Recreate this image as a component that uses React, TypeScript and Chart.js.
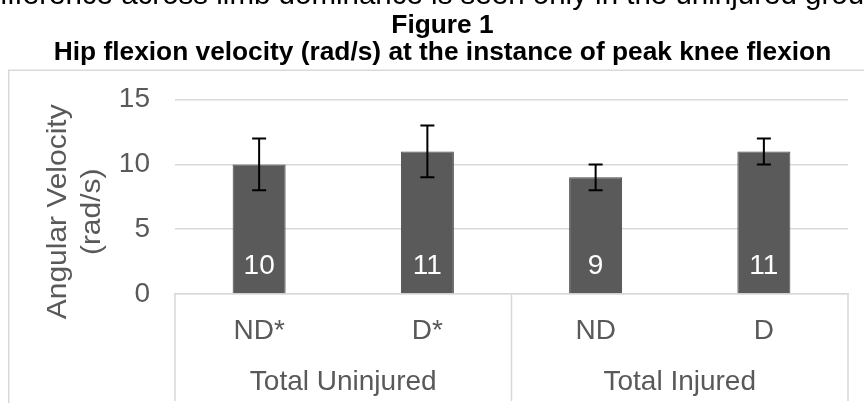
import React, { useEffect, useRef } from 'react';
import { Chart, registerables } from 'chart.js';

Chart.register(...registerables);

const categories = ['ND*', 'D*', 'ND', 'D'];
const groups = ['Total Uninjured', 'Total Injured'];
const groupMembers = [[0, 1], [2, 3]];
const values = [10, 11, 9, 11];
const errors = [2, 2, 1, 1];
const yMin = 0;
const yMax = 15;
const yStep = 5;
const topLine = 'difference across limb dominance is seen only in the uninjured group';
const titleLines = ['Figure 1', 'Hip flexion velocity (rad/s) at the instance of peak knee flexion'];
const yTitle = ['Angular Velocity', '(rad/s)'];

const FONT = '"Liberation Sans", Arial, Helvetica, sans-serif';
const GRAY = '#595959';
const LINE = '#d9d9d9';

const decorPlugin = {
  id: 'decor',
  beforeDraw(chart: any) {
    const { ctx, width, height } = chart;
    ctx.save();
    ctx.fillStyle = '#ffffff';
    ctx.fillRect(0, 0, width, height);
    ctx.font = `29.5px ${FONT}`;
    ctx.fillStyle = '#000000';
    ctx.textAlign = 'left';
    ctx.textBaseline = 'alphabetic';
    ctx.fillText(topLine, -16, 4);
    ctx.strokeStyle = LINE;
    ctx.lineWidth = 1.5;
    ctx.strokeRect(8.75, 70.25, 2000, 2000);
    ctx.restore();
  },
  afterDatasetsDraw(chart: any) {
    const { ctx } = chart;
    const meta = chart.getDatasetMeta(0);
    const yScale = chart.scales.y;
    ctx.save();
    meta.data.forEach((bar: any, i: number) => {
      const v = values[i];
      const e = errors[i];
      const x = bar.x;
      const yTop = yScale.getPixelForValue(v + e);
      const yBot = yScale.getPixelForValue(v - e);
      ctx.strokeStyle = '#000000';
      ctx.lineWidth = 2;
      ctx.beginPath();
      ctx.moveTo(x, yTop);
      ctx.lineTo(x, yBot);
      ctx.moveTo(x - 7, yTop);
      ctx.lineTo(x + 7, yTop);
      ctx.moveTo(x - 7, yBot);
      ctx.lineTo(x + 7, yBot);
      ctx.stroke();
      ctx.font = `28px ${FONT}`;
      ctx.fillStyle = '#ffffff';
      ctx.textAlign = 'center';
      ctx.textBaseline = 'middle';
      ctx.fillText(String(v), x, bar.base - 27);
    });
    ctx.restore();
  },
  afterDraw(chart: any) {
    const { ctx, chartArea } = chart;
    const xScale = chart.scales.x;
    ctx.save();
    ctx.strokeStyle = LINE;
    ctx.lineWidth = 1.5;
    const mid = (xScale.getPixelForValue(1) + xScale.getPixelForValue(2)) / 2;
    [chartArea.left, mid, chartArea.right].forEach((x: number) => {
      ctx.beginPath();
      ctx.moveTo(x, xScale.top);
      ctx.lineTo(x, 401);
      ctx.stroke();
    });
    ctx.font = `28px ${FONT}`;
    ctx.fillStyle = GRAY;
    ctx.textAlign = 'center';
    ctx.textBaseline = 'middle';
    groups.forEach((g, gi) => {
      const idx = groupMembers[gi];
      const cx = (xScale.getPixelForValue(idx[0]) + xScale.getPixelForValue(idx[idx.length - 1])) / 2;
      ctx.fillText(g, cx, 382);
    });
    // y-axis title (two lines, rotated)
    const cy = (chartArea.top + chartArea.bottom) / 2 + 15;
    yTitle.forEach((line, li) => {
      ctx.save();
      ctx.translate(58.5 + li * 33.6, cy);
      ctx.rotate(-Math.PI / 2);
      ctx.scale(1.07, 1);
      ctx.fillText(line, 0, 0);
      ctx.restore();
    });
    ctx.restore();
  },
};

export default function App() {
  const ref = useRef<HTMLCanvasElement | null>(null);

  useEffect(() => {
    if (!ref.current) return;
    const chart = new Chart(ref.current, {
      type: 'bar',
      data: {
        labels: categories,
        datasets: [
          {
            data: values,
            backgroundColor: '#5a5a5a',
            borderColor: '#474747',
            borderWidth: 1,
            barPercentage: 0.315,
            categoryPercentage: 1,
          },
        ],
      },
      options: {
        responsive: false,
        animation: false,
        devicePixelRatio: 1,
        layout: { padding: { left: 37, right: 16, top: 0, bottom: 0 } },
        plugins: {
          legend: { display: false },
          tooltip: { enabled: false },
          title: {
            display: true,
            text: titleLines,
            color: '#000000',
            font: { family: FONT, size: 26.3, weight: 'bold', lineHeight: 1.0 },
            padding: { top: 13, bottom: 34 },
          },
        },
        scales: {
          x: {
            grid: { display: false },
            border: { display: true, color: LINE, width: 1.5 },
            ticks: {
              color: GRAY,
              font: { family: FONT, size: 28 },
              padding: 12,
              maxRotation: 0,
              autoSkip: false,
            },
            afterFit(scale: any) {
              scale.height = 109;
            },
          },
          y: {
            min: yMin,
            max: yMax,
            grid: { color: LINE, lineWidth: 1.5, drawTicks: false },
            border: { display: false },
            ticks: {
              stepSize: yStep,
              color: GRAY,
              font: { family: FONT, size: 28 },
              padding: 25,
            },
            title: { display: false },
            afterFit(scale: any) {
              scale.width = 138;
            },
          },
        },
      },
      plugins: [decorPlugin],
    } as any);
    return () => chart.destroy();
  }, []);

  return (
    <div
      style={{
        position: 'fixed',
        left: 0,
        top: 0,
        width: 864,
        height: 403,
        overflow: 'hidden',
        background: '#fff',
      }}
    >
      <canvas ref={ref} width={864} height={403} style={{ display: 'block', width: 864, height: 403 }} />
    </div>
  );
}
